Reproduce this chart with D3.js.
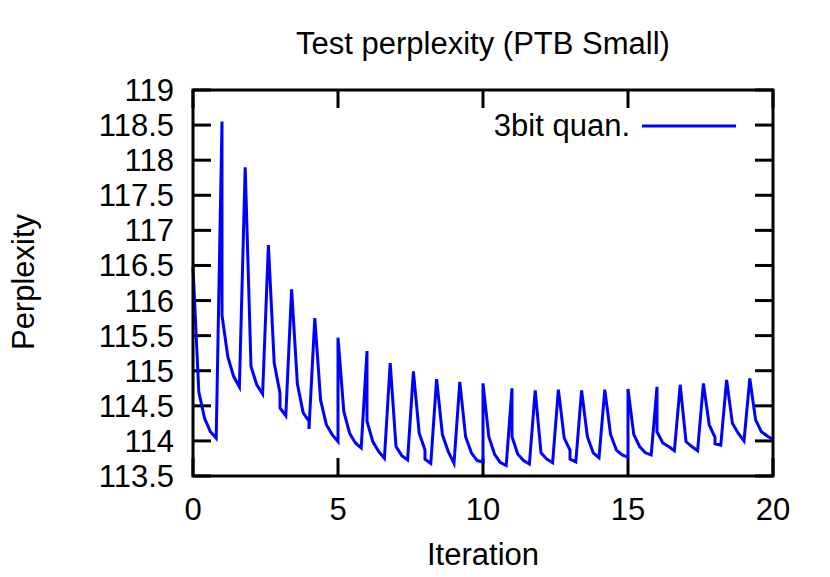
<!DOCTYPE html>
<html>
<head>
<meta charset="utf-8">
<script src="https://cdn.jsdelivr.net/npm/d3@7"></script>
<style>
  body { margin: 0; background: #fff; }
  text { font-family: "Liberation Sans", Arial, Helvetica, sans-serif; fill: #000; }
</style>
</head>
<body>
<svg id="chart" width="830" height="577"></svg>
<script>
// ---- data ----
const iterations = [
  0.0, 0.2, 0.4, 0.6, 0.8, 1.0, 1.0, 1.2, 1.4, 1.6, 1.8, 2.0, 2.2, 2.4, 2.6, 2.8, 3.0, 3.0, 3.2, 3.4,
  3.6, 3.8, 4.0, 4.0, 4.2, 4.4, 4.6, 4.8, 5.0, 5.0, 5.2, 5.4, 5.6, 5.8, 6.0, 6.0, 6.2, 6.4, 6.6, 6.8,
  7.0, 7.2, 7.4, 7.6, 7.8, 8.0, 8.0, 8.2, 8.4, 8.6, 8.8, 9.0, 9.2, 9.4, 9.6, 9.8, 10.0, 10.0, 10.2, 10.4,
  10.6, 10.8, 11.0, 11.0, 11.2, 11.4, 11.6, 11.8, 12.0, 12.2, 12.4, 12.6, 12.8, 13.0, 13.0, 13.2, 13.4, 13.6, 13.8, 14.0,
  14.2, 14.4, 14.6, 14.8, 15.0, 15.0, 15.2, 15.4, 15.6, 15.8, 16.0, 16.0, 16.2, 16.4, 16.6, 16.8, 17.0, 17.2, 17.4, 17.6,
  17.8, 18.0, 18.0, 18.2, 18.4, 18.6, 18.8, 19.0, 19.2, 19.4, 19.6, 19.8, 20.0
];
const perplexity3bit = [
  116.48, 114.70, 114.32, 114.13, 114.04, 118.55, 115.79, 115.20, 114.92, 114.77, 117.90, 115.06, 114.80, 114.67, 116.79, 115.11, 114.68, 114.47, 114.36, 116.16,
  114.81, 114.40, 114.28, 114.17, 115.75, 114.58, 114.23, 114.09, 113.99, 115.47, 114.42, 114.11, 113.97, 113.90, 115.28, 114.28, 113.99, 113.85, 113.75, 115.11,
  113.92, 113.79, 113.73, 114.99, 114.11, 113.87, 113.74, 113.68, 114.88, 114.09, 113.85, 113.68, 114.84, 114.06, 113.83, 113.72, 113.70, 114.82, 114.06, 113.81,
  113.69, 113.65, 114.75, 114.06, 113.81, 113.72, 113.67, 114.72, 113.83, 113.74, 113.69, 114.73, 114.04, 113.87, 113.74, 113.70, 114.72, 114.06, 113.83, 113.76,
  114.73, 114.09, 113.87, 113.80, 113.77, 114.74, 114.09, 113.92, 113.83, 113.80, 114.77, 114.13, 113.97, 113.92, 113.86, 114.80, 113.99, 113.92, 113.86, 114.82,
  114.23, 114.05, 113.96, 113.94, 114.87, 114.25, 114.11, 114.00, 114.89, 114.30, 114.13, 114.07, 114.02
];
const xTicks = [0, 5, 10, 15, 20];
const yTicks = [113.5, 114, 114.5, 115, 115.5, 116, 116.5, 117, 117.5, 118, 118.5, 119];
const titleText = "Test perplexity (PTB Small)";
const xLabel = "Iteration";
const yLabel = "Perplexity";
const seriesName = "3bit quan.";

// ---- layout ----
const svg = d3.select("#chart");
const L = 193, R = 773, T = 90, B = 476;
const x = d3.scaleLinear().domain([0, 20]).range([L, R]);
const y = d3.scaleLinear().domain([113.5, 119]).range([B, T]);
const fs = 31;
const tickLen = 18;

// inward ticks on all four sides
const g = svg.append("g");
g.selectAll("line.yl").data(yTicks).join("line")
  .attr("x1", L).attr("x2", L + tickLen).attr("y1", d => y(d)).attr("y2", d => y(d))
  .attr("stroke", "#000").attr("stroke-width", 3);
g.selectAll("line.yr").data(yTicks).join("line")
  .attr("x1", R).attr("x2", R - tickLen).attr("y1", d => y(d)).attr("y2", d => y(d))
  .attr("stroke", "#000").attr("stroke-width", 3);
g.selectAll("line.xb").data(xTicks).join("line")
  .attr("x1", d => x(d)).attr("x2", d => x(d)).attr("y1", B).attr("y2", B - tickLen)
  .attr("stroke", "#000").attr("stroke-width", 3);
g.selectAll("line.xt").data(xTicks).join("line")
  .attr("x1", d => x(d)).attr("x2", d => x(d)).attr("y1", T).attr("y2", T + tickLen)
  .attr("stroke", "#000").attr("stroke-width", 3);

// tick labels
svg.append("g").selectAll("text").data(yTicks).join("text")
  .attr("x", L - 19).attr("y", d => y(d) + 11)
  .attr("text-anchor", "end").attr("font-size", fs)
  .text(d => d3.format("")(d));
svg.append("g").selectAll("text").data(xTicks).join("text")
  .attr("x", d => x(d)).attr("y", B + 44)
  .attr("text-anchor", "middle").attr("font-size", fs)
  .text(d => d);

// series line
const line = d3.line().x((d, i) => x(iterations[i])).y(d => y(d));
svg.append("path").datum(perplexity3bit)
  .attr("d", line).attr("fill", "none")
  .attr("stroke", "#0000ff").attr("stroke-width", 3).attr("stroke-linejoin", "miter");

// frame
svg.append("rect").attr("x", L).attr("y", T).attr("width", R - L).attr("height", B - T)
  .attr("fill", "none").attr("stroke", "#000").attr("stroke-width", 3);

// legend
svg.append("text").attr("x", 630).attr("y", 136).attr("text-anchor", "end")
  .attr("font-size", fs).text(seriesName);
svg.append("line").attr("x1", 642).attr("x2", 736).attr("y1", 126).attr("y2", 126)
  .attr("stroke", "#0000ff").attr("stroke-width", 3);

// titles
svg.append("text").attr("x", 483).attr("y", 54).attr("text-anchor", "middle")
  .attr("font-size", fs).text(titleText);
svg.append("text").attr("x", 483).attr("y", 565).attr("text-anchor", "middle")
  .attr("font-size", fs).text(xLabel);
svg.append("text").attr("transform", "translate(34,282) rotate(-90)")
  .attr("text-anchor", "middle").attr("font-size", fs).text(yLabel);
</script>
</body>
</html>
